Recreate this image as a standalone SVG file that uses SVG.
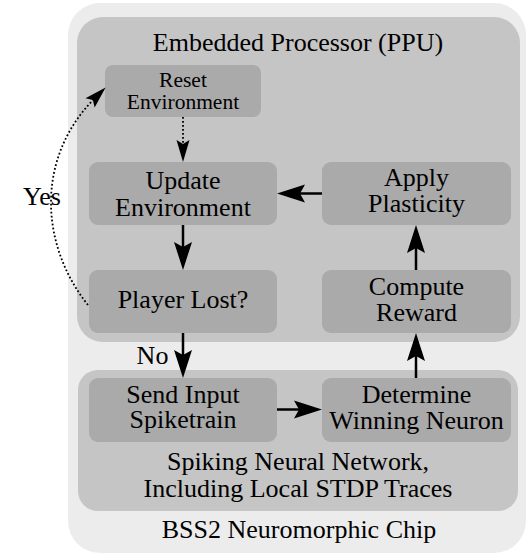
<svg xmlns="http://www.w3.org/2000/svg" width="529" height="557" viewBox="0 0 529 557">
<style>
text{font-size:26px;fill:#000;text-anchor:middle}
.small{font-size:21.5px}
.outer{fill:#ececec}
.mid{fill:#c5c5c5}
.box{fill:#aaaaaa}
.solid{fill:none;stroke:#000;stroke-width:2.5}
.dot{fill:none;stroke:#000;stroke-width:1.8;stroke-dasharray:1.8 2.2}
</style>
<defs>
<marker id="ah" viewBox="-30 -10 32 20" markerWidth="32" markerHeight="20" refX="-20" refY="0" orient="auto" markerUnits="userSpaceOnUse">
<path d="M0,0 L-28,-9 L-23,0 L-28,9 Z" fill="#000"/>
</marker>
<marker id="ahd" viewBox="-26 -8 28 16" markerWidth="28" markerHeight="16" refX="-15" refY="0" orient="auto" markerUnits="userSpaceOnUse">
<path d="M0,0 L-22,-6.5 L-18,0 L-22,6.5 Z" fill="#000"/>
</marker>
</defs>
<g font-family="'Liberation Serif', 'DejaVu Serif', serif">
<g id="chip">
<rect class="outer" x="68" y="3" width="458" height="550" rx="32" ry="32"/>
<text x="299" y="538">BSS2 Neuromorphic Chip</text>
</g>
<g id="ppu">
<rect class="mid" x="77" y="17" width="443" height="325" rx="26" ry="26"/>
<text x="298" y="50.5">Embedded Processor (PPU)</text>
</g>
<g id="snn">
<rect class="mid" x="78" y="370" width="440" height="141" rx="20" ry="20"/>
<text x="298" y="470">Spiking Neural Network,</text>
<text x="298" y="497">Including Local STDP Traces</text>
</g>
<g id="reset">
<rect class="box" x="105" y="65" width="156" height="52" rx="8"/>
<text class="small" x="183" y="87">Reset</text>
<text class="small" x="183" y="109">Environment</text>
</g>
<g id="update">
<rect class="box" x="89" y="162" width="188" height="63" rx="9"/>
<text x="183" y="189">Update</text>
<text x="183" y="215.5">Environment</text>
</g>
<g id="apply">
<rect class="box" x="322" y="162" width="189" height="63" rx="9"/>
<text x="416.5" y="186">Apply</text>
<text x="416.5" y="212">Plasticity</text>
</g>
<g id="player">
<rect class="box" x="89" y="270" width="188" height="63" rx="9"/>
<text x="183" y="308">Player Lost?</text>
</g>
<g id="compute">
<rect class="box" x="322" y="270" width="189" height="63" rx="9"/>
<text x="416.5" y="295">Compute</text>
<text x="416.5" y="321">Reward</text>
</g>
<g id="send">
<rect class="box" x="89" y="378" width="188" height="64" rx="9"/>
<text x="183" y="403">Send Input</text>
<text x="183" y="428">Spiketrain</text>
</g>
<g id="determine">
<rect class="box" x="322" y="378" width="189" height="64" rx="9"/>
<text x="416.5" y="403">Determine</text>
<text x="416.5" y="429">Winning Neuron</text>
</g>
<g id="connectors">
<path class="dot" d="M183,117 L183,147" marker-end="url(#ahd)"/>
<path class="solid" d="M183,225 L183,250" marker-end="url(#ah)"/>
<path class="solid" d="M322,193.5 L297,193.5" marker-end="url(#ah)"/>
<path class="solid" d="M416,270 L416,245" marker-end="url(#ah)"/>
<path class="solid" d="M183,333 L183,358" marker-end="url(#ah)"/>
<path class="solid" d="M277,409.5 L302,409.5" marker-end="url(#ah)"/>
<path class="solid" d="M416,378 L416,353" marker-end="url(#ah)"/>
<path class="dot" d="M88,305 C40,245 35,158 95,98" marker-end="url(#ahd)"/>
<text x="42" y="205">Yes</text>
<text x="152.5" y="364">No</text>
</g>
</g>
</svg>
